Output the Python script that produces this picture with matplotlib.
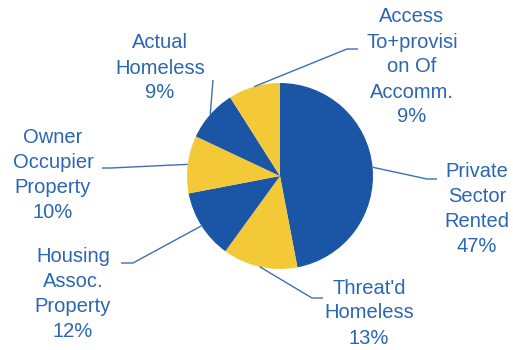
import numpy as np
import matplotlib
matplotlib.use("Agg")
import matplotlib.pyplot as plt

# data
categories = ["Private\nSector\nRented", "Threat'd\nHomeless", "Housing\nAssoc.\nProperty",
              "Owner\nOccupier\nProperty", "Actual\nHomeless", "Access\nTo+provisi\non Of\nAccomm."]
shares = [47, 13, 12, 10, 9, 9]
colors = ["#1A56A5", "#F4C938", "#1A56A5", "#F4C938", "#1A56A5", "#F4C938"]

# layout (pixel coords, y measured from top)
W, H = 513, 350
center_px = (280, 176)
radius = 93
# elbow point, end of horizontal tick, text centre
elbows = [(427, 179), (312, 298), (133, 263), (111, 168), (213, 80), (347, 49)]
ends = [(437, 179), (323, 298), (121, 263), (102, 168), (213, 80), (358, 49)]
text_pos = [(477, 209), (369, 313), (73, 294), (53, 175), (160, 68), (412, 67)]

text_col = "#2A66B4"
line_col = "#3B6FB6"

fig = plt.figure(figsize=(W / 100, H / 100), dpi=100)
ax = fig.add_axes([0, 0, 1, 1])
cx, cy = center_px[0], H - center_px[1]
wedges, _ = ax.pie(shares, colors=colors, startangle=90, counterclock=False,
                   center=(cx, cy), radius=radius,
                   wedgeprops=dict(linewidth=0))
ax.set_xlim(0, W)
ax.set_ylim(0, H)
ax.axis("off")

for w, lab, s, el, en, tp in zip(wedges, categories, shares, elbows, ends, text_pos):
    ang = np.deg2rad((w.theta1 + w.theta2) / 2)
    x0 = cx + radius * np.cos(ang)
    y0 = cy + radius * np.sin(ang)
    ax.plot([x0, el[0], en[0]], [y0, H - el[1], H - en[1]], color=line_col, lw=1.0,
            solid_capstyle="butt")
    ax.text(tp[0], H - tp[1], f"{lab}\n{s}%", ha="center", va="center",
            fontsize=14.5, family="Liberation Sans", color=text_col, linespacing=1.4)

fig.savefig("out.png", dpi=100)
